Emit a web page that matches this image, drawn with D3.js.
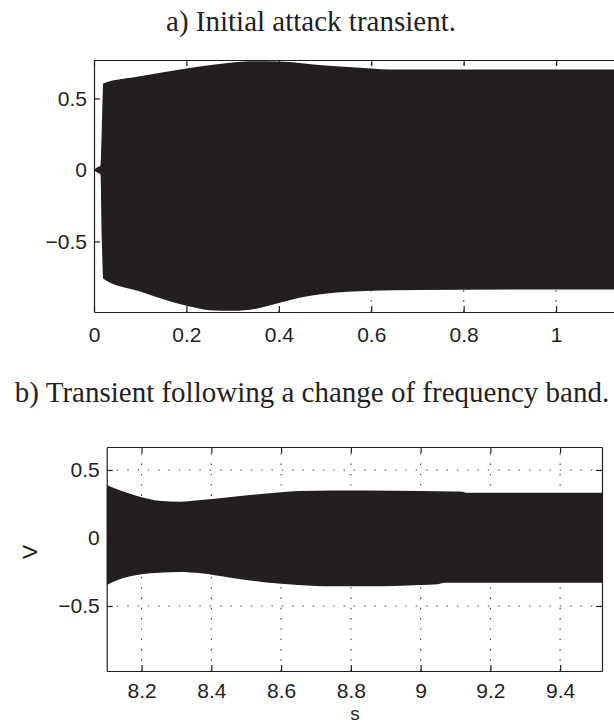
<!DOCTYPE html>
<html>
<head>
<meta charset="utf-8">
<script src="https://cdn.jsdelivr.net/npm/d3@7"></script>
<style>
  body { margin: 0; background: #fff; }
  svg { display: block; }
</style>
</head>
<body>
<div id="chart"></div>
<script>
// a) attack transient: signal envelope (upper / lower) vs time in s
var aTime  = [0, 0.008, 0.014, 0.017, 0.02, 0.1, 0.2, 0.28, 0.34, 0.4, 0.5, 0.6, 0.64, 0.8, 1.0, 1.2];
var aUpper = [0, 0.02, 0.03, 0.3, 0.605, 0.655, 0.71, 0.745, 0.76, 0.758, 0.73, 0.71, 0.703, 0.703, 0.702, 0.702];
var aLowT  = [0, 0.008, 0.014, 0.017, 0.02, 0.1, 0.2, 0.25, 0.3, 0.35, 0.4, 0.45, 0.5, 0.6, 0.7, 0.9, 1.2];
var aLower = [0, -0.02, -0.03, -0.5, -0.76, -0.85, -0.95, -0.98, -0.985, -0.97, -0.93, -0.89, -0.865, -0.845, -0.84, -0.835, -0.835];

// b) transient after change of band
var bTime  = [8.1, 8.13, 8.2, 8.25, 8.31, 8.37, 8.45, 8.55, 8.65, 8.75, 8.85, 9.0, 9.1, 9.12, 9.13, 9.52];
var bUpper = [0.39, 0.358, 0.3, 0.274, 0.267, 0.279, 0.3, 0.325, 0.345, 0.35, 0.35, 0.345, 0.342, 0.34, 0.333, 0.333];
var bLowT  = [8.1, 8.13, 8.2, 8.25, 8.31, 8.37, 8.45, 8.55, 8.65, 8.75, 8.85, 9.0, 9.05, 9.07, 9.52];
var bLower = [-0.346, -0.31, -0.267, -0.255, -0.25, -0.26, -0.29, -0.325, -0.345, -0.355, -0.355, -0.345, -0.34, -0.33, -0.33];

var aXTicks = [0, 0.2, 0.4, 0.6, 0.8, 1];
var bXTicks = [8.2, 8.4, 8.6, 8.8, 9, 9.2, 9.4];
var yTicks  = [-0.5, 0, 0.5];

var titleA = "a) Initial attack transient.";
var titleB = "b) Transient following a change of frequency band.";

var W = 614, H = 724;
var ink = "#231f20";
var fmt = d3.format("~g");

var svg = d3.select("#chart").append("svg")
  .attr("width", W)
  .attr("height", H);

svg.append("rect").attr("width", W).attr("height", H).attr("fill", "#fff");

function zip(t, v) { return t.map((d, i) => [d, v[i]]); }

function drawPanel(p) {
  var x = d3.scaleLinear().domain(p.xDomain).range([p.left, p.right]);
  var y = d3.scaleLinear().domain(p.yDomain).range([p.bottom, p.top]);

  var g = svg.append("g");

  g.append("clipPath").attr("id", p.id)
    .append("rect")
    .attr("x", p.left).attr("y", p.top)
    .attr("width", p.right - p.left).attr("height", p.bottom - p.top);

  // dotted grid
  var grid = g.append("g").attr("clip-path", "url(#" + p.id + ")")
    .attr("stroke", "#444").attr("stroke-width", 1.2)
    .attr("stroke-dasharray", "1.4,8.9");
  grid.selectAll(".gx").data(p.xTicks).enter().append("line")
    .attr("x1", d => x(d)).attr("x2", d => x(d))
    .attr("y1", p.bottom).attr("y2", p.top);
  grid.selectAll(".gy").data(yTicks).enter().append("line")
    .attr("y1", d => y(d)).attr("y2", d => y(d))
    .attr("x1", p.left).attr("x2", p.right);

  // signal, drawn as the band between its two envelopes
  var up = zip(p.tUp, p.up);
  var lo = zip(p.tLo, p.lo).reverse();
  var line = d3.line().x(d => x(d[0])).y(d => y(d[1])).curve(d3.curveMonotoneX);
  g.append("path")
    .attr("clip-path", "url(#" + p.id + ")")
    .attr("d", line(up) + line(lo).replace(/^M/, "L") + "Z")
    .attr("fill", ink);

  // axes, MATLAB style inward ticks
  var xb = g.append("g").attr("transform", "translate(0," + p.bottom + ")")
    .call(d3.axisBottom(x).tickValues(p.xTicks).tickFormat(fmt).tickSize(-6).tickSizeOuter(0).tickPadding(p.xPad));
  var xt = g.append("g").attr("transform", "translate(0," + p.top + ")")
    .call(d3.axisTop(x).tickValues(p.xTicks).tickFormat("").tickSize(-6).tickSizeOuter(0));
  var yl = g.append("g").attr("transform", "translate(" + p.left + ",0)")
    .call(d3.axisLeft(y).tickValues(yTicks).tickFormat(fmt).tickSize(-6).tickSizeOuter(0).tickPadding(7));
  var yr = g.append("g").attr("transform", "translate(" + p.right + ",0)")
    .call(d3.axisRight(y).tickValues(yTicks).tickFormat("").tickSize(-6).tickSizeOuter(0));

  [xb, xt, yl, yr].forEach(a => {
    a.selectAll("path, line").attr("stroke", ink).attr("stroke-width", 1.2);
    a.selectAll("text").attr("fill", ink)
      .style("font-family", "'Liberation Sans', Arial, sans-serif")
      .style("font-size", "21px");
  });

  g.append("text")
    .attr("x", p.titleX).attr("y", p.titleY)
    .attr("text-anchor", "middle")
    .attr("fill", ink)
    .style("font-family", "'Liberation Serif', 'Times New Roman', serif")
    .style("font-size", "29px")
    .text(p.title);
}

drawPanel({
  id: "clipA", left: 94, right: 648.5, top: 60, bottom: 312,
  xDomain: [0, 1.2], yDomain: [-0.993, 0.769],
  xTicks: aXTicks, xPad: 15,
  tUp: aTime, up: aUpper, tLo: aLowT, lo: aLower,
  title: titleA, titleX: 311, titleY: 31
});

drawPanel({
  id: "clipB", left: 106.7, right: 602, top: 447, bottom: 671,
  xDomain: [8.1, 9.52], yDomain: [-0.978, 0.669],
  xTicks: bXTicks, xPad: 12,
  tUp: bTime, up: bUpper, tLo: bLowT, lo: bLower,
  title: titleB, titleX: 312, titleY: 402
});

// axis labels of panel b
svg.append("text")
  .attr("x", 355).attr("y", 720)
  .attr("text-anchor", "middle")
  .attr("fill", ink)
  .style("font-family", "'Liberation Sans', Arial, sans-serif")
  .style("font-size", "19px")
  .text("s");

svg.append("text")
  .attr("transform", "translate(37,552) rotate(-90)")
  .attr("text-anchor", "middle")
  .attr("fill", ink)
  .style("font-family", "'Liberation Sans', Arial, sans-serif")
  .style("font-size", "21px")
  .text("V");
</script>
</body>
</html>
